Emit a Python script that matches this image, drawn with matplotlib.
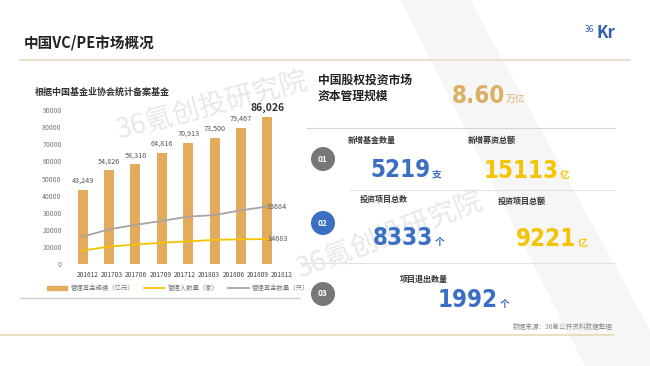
#!/usr/bin/env python3

import matplotlib
matplotlib.use("Agg")
import matplotlib.pyplot as plt
from matplotlib import font_manager as fm
from matplotlib.patches import Circle, Polygon, Patch
from matplotlib.lines import Line2D

plt.rcParams["font.family"] = ["Noto Sans CJK SC", "DejaVu Sans"]

# data
periods = ["201612", "201703", "201706", "201709", "201712",
           "201803", "201806", "201809", "201812"]
fund_scale = [43249, 54826, 58310, 64816, 70913, 73500, 79467, 86026]
managers = [8000, 10300, 11500, 12600, 13400, 14200, 14600, 14683]
fund_count = [16100, 20400, 23000, 25300, 27800, 28700, 31500, 33684]
series_names = ["管理基金规模（亿元）", "管理人数量（家）", "管理基金数量（只）"]

W, H = 650, 366
BAR = "#e3ab5e"
YEL = "#f5c400"
GRY = "#a5a5a5"
BLUE = "#3a6fc4"
GOLD = "#dcb064"


def pick_narrow_font():
    # look for a condensed face for the big numbers
    tries = [("Liberation Sans Narrow", "normal"), ("DejaVu Sans", "condensed"),
             ("Open Sans Condensed", "normal"), ("Roboto Condensed", "normal"),
             ("Open Sans", "condensed"), ("Roboto", "condensed")]
    for fam, stretch in tries:
        fp = fm.FontProperties(family=fam, weight="bold", stretch=stretch)
        try:
            path = fm.findfont(fp, fallback_to_default=False)
        except ValueError:
            continue
        name = path.lower()
        if "narrow" in name or "condensed" in name or "cond" in name:
            return fp
    return fm.FontProperties(family="Roboto", weight="black")


NUM_FP = pick_narrow_font()


def fx(x):
    return x / W


def fy(y):
    return 1 - y / H


fig = plt.figure(figsize=(6.5, 3.66), dpi=100)
fig.patch.set_facecolor("white")

# background layer in pixel coordinates
bg = fig.add_axes([0, 0, 1, 1], zorder=-5)
bg.set_xlim(0, W)
bg.set_ylim(H, 0)
bg.axis("off")
bg.add_patch(Polygon([(400, 0), (470, 0), (650, 330), (650, 366), (585, 366)],
                     closed=True, color="#f6f6f6", lw=0))
bg.plot([20, 630], [60, 60], color="#e6dcc4", lw=1.2)
bg.plot([20, 300], [298, 298], color="#cfcfcf", lw=1.0)
bg.plot([307, 615], [128, 128], color="#d5d5d5", lw=0.8)
bg.plot([350, 615], [190, 190], color="#e2e2e2", lw=0.8)
bg.plot([300, 615], [263, 263], color="#e2e2e2", lw=0.8)
bg.plot([0, 613], [335, 335], color="#e8d9b5", lw=1.2)

# watermark
bg.text(120, 146, "36氪创投研究院", fontsize=20, color="#e8e8e8",
        rotation=15, va="bottom", ha="left", rotation_mode="anchor")
bg.text(303, 285, "36氪创投研究院", fontsize=20, color="#e8e8e8",
        rotation=21, va="bottom", ha="left", rotation_mode="anchor")

# numbered circles
for cy, col, txt in [(159, "#777777", "01"), (223, BLUE, "02"), (294, "#777777", "03")]:
    bg.add_patch(Circle((323, cy), 12, color=col, lw=0))
    bg.text(323, cy, txt, color="white", fontsize=6, fontweight="bold",
            ha="center", va="center")

# title and logo
fig.text(fx(24), fy(43), "中国VC/PE市场概况", fontsize=10.5, fontweight="bold",
         color="#222222", va="center")
fig.text(fx(585), fy(30), "36", fontsize=6, color="#2f5fb0", va="center")
fig.text(fx(596), fy(33), "Kr", fontsize=12, fontweight="bold", color="#2f5fb0",
         va="center")

# left chart
fig.text(fx(35), fy(92), "根据中国基金业协会统计备案基金", fontsize=6.5,
         fontweight="bold", color="#333333", va="center")

ax = fig.add_axes([fx(75.5), fy(264.3), fx(294) - fx(75.5), fy(110) - fy(264.3)])
ax.set_facecolor("none")
x = list(range(len(fund_scale)))
ax.bar(x, fund_scale, width=0.38, color=BAR, zorder=2)
ax.plot(x, fund_count, color=GRY, lw=1.3, zorder=3)
ax.plot(x, managers, color=YEL, lw=1.3, zorder=3)
for i, v in enumerate(fund_scale):
    if i == len(fund_scale) - 1:
        ax.text(i, v + 2500, f"{v:,}", ha="center", va="bottom", fontsize=7.5,
                fontweight="bold", color="#333333", clip_on=False)
    else:
        ax.text(i, v + 3000, f"{v:,}", ha="center", va="bottom", fontsize=5.2,
                color="#555555", clip_on=False)
ax.text(x[-1] - 0.02, fund_count[-1], f"{fund_count[-1]}", ha="left", va="center",
        fontsize=5.2, color="#555555", clip_on=False, zorder=4)
ax.text(x[-1] - 0.02, managers[-1], f"{managers[-1]}", ha="left", va="center",
        fontsize=5.2, color="#555555", clip_on=False, zorder=4)
ax.set_xlim(-0.27, 8.01)
ax.set_ylim(0, 90000)
ax.set_yticks(range(0, 90001, 10000))
ax.tick_params(axis="y", length=0, labelsize=5, labelcolor="#777777", pad=10)
ax.set_xticks([])
for s in ax.spines.values():
    s.set_visible(False)

# category labels sit on their own evenly spaced axis
axl = ax.twiny()
axl.set_xlim(-0.5, len(periods) - 0.5)
axl.xaxis.set_ticks_position("bottom")
axl.set_xticks(range(len(periods)))
axl.set_xticklabels(periods)
axl.tick_params(axis="x", length=0, labelsize=4.8, labelcolor="#444444", pad=5)
for s in axl.spines.values():
    s.set_visible(False)

handles = [Patch(color=BAR), Line2D([], [], color=YEL, lw=1.3),
           Line2D([], [], color=GRY, lw=1.3)]
fig.legend(handles, series_names, loc="center", bbox_to_anchor=(fx(178), fy(288)),
           ncol=3, frameon=False, fontsize=4.6, handlelength=3.2, handleheight=0.6,
           columnspacing=1.5, handletextpad=0.5, labelcolor="#777777")

# right panel
fig.text(fx(318), fy(80), "中国股权投资市场", fontsize=8.5, fontweight="bold",
         color="#222222", va="center")
fig.text(fx(318), fy(96), "资本管理规模", fontsize=8.5, fontweight="bold",
         color="#222222", va="center")

labels = [("新增基金数量", 348, 141), ("新增募资总额", 468, 140),
          ("投资项目总数", 360, 199), ("投资项目总额", 498, 201),
          ("项目退出数量", 400, 279)]
for t, lx, ly in labels:
    fig.text(fx(lx), fy(ly), t, fontsize=5.8, fontweight="bold", color="#333333",
             va="center")

# size the big numbers so "8333" spans about 60 px
fig.canvas.draw()
probe = fig.text(0, 0, "8333", fontproperties=NUM_FP, fontsize=20)
fig.canvas.draw()
pw = probe.get_window_extent().width
probe.remove()
num_size = min(26, 20 * 60 / pw)

# (text, unit, centre x, baseline y, colour)
numbers = [("8.60", "万亿", 478, 103, GOLD),
           ("5219", "支", 400, 177, BLUE), ("15113", "亿", 521, 178, YEL),
           ("8333", "个", 403, 245, BLUE), ("9221", "亿", 546, 246, YEL),
           ("1992", "个", 468, 307, BLUE)]
for num, unit, cx, by, col in numbers:
    t = fig.text(fx(cx), fy(by), num, fontproperties=NUM_FP, fontsize=num_size,
                 color=col, va="baseline", ha="center")
    fig.canvas.draw()
    bb = t.get_window_extent()
    fig.text(bb.x1 / fig.bbox.width + 0.002, fy(by), unit, fontsize=7,
             fontweight="bold" if col != GOLD else "normal", color=col,
             va="baseline")

fig.text(fx(613), fy(327), "数据来源：36氪公开资料数据整理", fontsize=4.8,
         color="#888888", ha="right", va="center")

fig.savefig("out.png", dpi=100)
